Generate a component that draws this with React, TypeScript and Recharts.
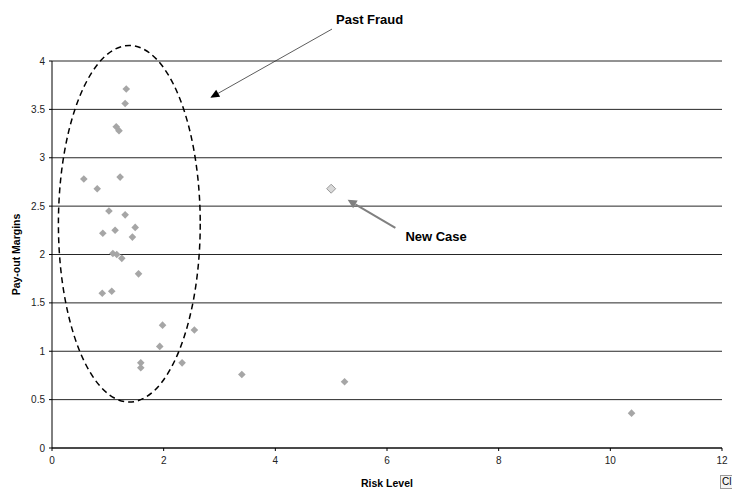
import React from "react";
import {
  ScatterChart,
  Scatter,
  XAxis,
  YAxis,
  CartesianGrid,
  ReferenceArea,
  ReferenceLine,
} from "recharts";

// Past fraud cases
const riskLevels = [
  1.33, 1.31, 1.15, 1.2, 0.57, 0.81, 1.22, 1.02, 1.31, 0.91, 1.13, 1.49, 1.44,
  1.09, 1.16, 1.25, 1.55, 0.9, 1.07, 1.98, 2.55, 1.93, 1.59, 1.59, 2.33, 3.4,
  5.24, 10.38,
];
const payoutMargins = [
  3.71, 3.56, 3.32, 3.28, 2.78, 2.68, 2.8, 2.45, 2.41, 2.22, 2.25, 2.28, 2.18,
  2.01, 2.0, 1.96, 1.8, 1.6, 1.62, 1.27, 1.22, 1.05, 0.88, 0.83, 0.88, 0.76,
  0.685, 0.36,
];
// New case
const newCaseRisk = [5.0];
const newCaseMargin = [2.68];

const xTicks = [0, 2, 4, 6, 8, 10, 12];
const yTicks = [0, 0.5, 1, 1.5, 2, 2.5, 3, 3.5, 4];

// Annotation anchors (data coordinates)
const fraudEllipse = { x1: 0.115, x2: 2.655, y1: 0.475, y2: 4.16 };
const fraudArrow = [
  { x: 5.015, y: 4.33 },
  { x: 2.835, y: 3.62 },
];
const newCaseArrow = [
  { x: 6.15, y: 2.276 },
  { x: 5.295, y: 2.565 },
];

const pastData = riskLevels.map((x, i) => ({ x, y: payoutMargins[i] }));
const newData = newCaseRisk.map((x, i) => ({ x, y: newCaseMargin[i] }));

const FONT = "'Liberation Sans', Arial, sans-serif";

const Diamond = (size: number, fill: string, stroke?: string) => (p: any) => {
  const { cx, cy } = p;
  if (cx == null || cy == null) return null;
  const pts = `${cx},${cy - size} ${cx + size},${cy} ${cx},${cy + size} ${cx - size},${cy}`;
  return <polygon points={pts} fill={fill} stroke={stroke || "none"} strokeWidth={1} />;
};

const EllipseShape = (p: any) => {
  const { x, y, width, height } = p;
  return (
    <ellipse
      cx={x + width / 2}
      cy={y + height / 2}
      rx={width / 2}
      ry={height / 2}
      fill="none"
      stroke="#000"
      strokeWidth={1.5}
      strokeDasharray="6 4"
    />
  );
};

const makeArrow =
  (color: string, width: number, head: number, headW: number, label: string, dx: number, dy: number) =>
  (p: any) => {
    const { x1, y1, x2, y2 } = p;
    if ([x1, y1, x2, y2].some((v) => v == null || isNaN(v))) return null;
    const len = Math.hypot(x2 - x1, y2 - y1);
    const ux = (x2 - x1) / len;
    const uy = (y2 - y1) / len;
    const bx = x2 - ux * head;
    const by = y2 - uy * head;
    const nx = -uy;
    const ny = ux;
    const pts = `${x2},${y2} ${bx + nx * headW},${by + ny * headW} ${bx - nx * headW},${by - ny * headW}`;
    return (
      <g>
        <line x1={x1} y1={y1} x2={bx} y2={by} stroke={color} strokeWidth={width} />
        <polygon points={pts} fill={color === "#808080" ? "#808080" : "#000"} />
        <text
          x={x1 + dx}
          y={y1 + dy}
          fontFamily={FONT}
          fontSize={13}
          fontWeight="bold"
          fill="#000"
          dominantBaseline="central"
        >
          {label}
        </text>
      </g>
    );
  };

export default function App() {
  return (
    <div style={{ position: "relative", width: 732, height: 499, background: "#fff" }}>
      <style>{"body{margin:0}"}</style>
      <ScatterChart
        width={732}
        height={499}
        margin={{ top: 61, right: 10, left: 0, bottom: 0 }}
      >
        <CartesianGrid horizontal vertical={false} stroke="#000" strokeOpacity={0.85} />
        <XAxis
          type="number"
          dataKey="x"
          domain={[0, 12]}
          ticks={xTicks}
          height={51}
          tickSize={3}
          tickMargin={6}
          axisLine={{ stroke: "#000" }}
          tickLine={{ stroke: "#000" }}
          tick={{ fontSize: 10, fontFamily: FONT, fill: "#222" }}
          label={{
            value: "Risk Level",
            position: "insideBottom",
            offset: 12,
            style: { fontSize: 10.5, fontFamily: FONT, fontWeight: "bold", fill: "#000" },
          }}
        />
        <YAxis
          type="number"
          dataKey="y"
          domain={[0, 4]}
          ticks={yTicks}
          width={52}
          tickSize={3}
          tickMargin={4}
          axisLine={{ stroke: "#000" }}
          tickLine={{ stroke: "#000" }}
          tick={{ fontSize: 10, fontFamily: FONT, fill: "#222" }}
          label={{
            value: "Pay-out Margins",
            angle: -90,
            position: "insideLeft",
            offset: 16,
            style: {
              fontSize: 10.5,
              fontFamily: FONT,
              fontWeight: "bold",
              fill: "#000",
              textAnchor: "middle",
            },
          }}
        />
        <ReferenceArea
          x1={fraudEllipse.x1}
          x2={fraudEllipse.x2}
          y1={fraudEllipse.y1}
          y2={fraudEllipse.y2}
          ifOverflow="visible"
          shape={EllipseShape}
        />
        <Scatter
          data={pastData}
          isAnimationActive={false}
          shape={Diamond(3.8, "#a6a6a6")}
        />
        <Scatter
          data={newData}
          isAnimationActive={false}
          shape={Diamond(4.5, "#d8d8d8", "#9a9a9a")}
        />
        <ReferenceLine
          segment={fraudArrow}
          ifOverflow="visible"
          shape={makeArrow("#333", 0.8, 9, 4, "Past Fraud", 4, -10)}
        />
        <ReferenceLine
          segment={newCaseArrow}
          ifOverflow="visible"
          shape={makeArrow("#808080", 2, 9, 4.5, "New Case", 10, 9)}
        />
      </ScatterChart>
      <div
        style={{
          position: "absolute",
          left: 720,
          top: 475,
          width: 14,
          height: 14,
          border: "1px solid #999",
          boxSizing: "border-box",
          overflow: "hidden",
          fontFamily: FONT,
          fontSize: 10,
          lineHeight: "12px",
          paddingLeft: 1,
          color: "#000",
          background: "#f4f4f4",
        }}
      >
        Cl
      </div>
    </div>
  );
}
